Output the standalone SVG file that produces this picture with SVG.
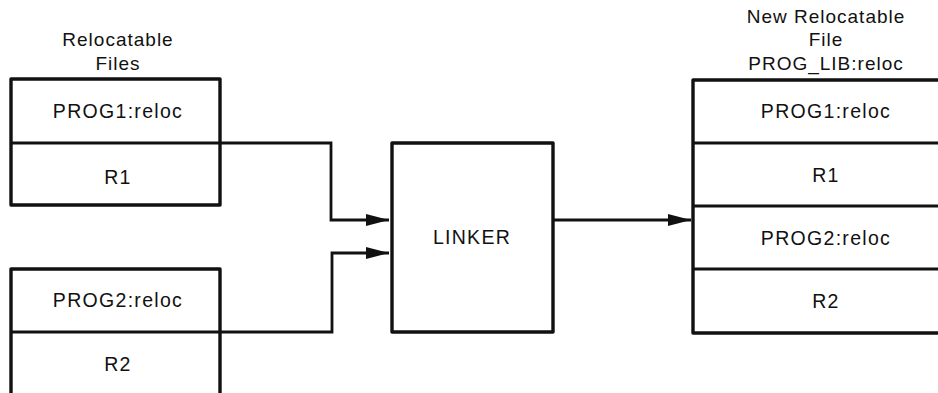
<svg xmlns="http://www.w3.org/2000/svg" width="938" height="393" viewBox="0 0 938 393">
<defs>
<style>
.box{fill:none;stroke:#111;stroke-width:3.4;stroke-linejoin:round}
.ln{fill:none;stroke:#111;stroke-width:2.8}
.t{font-family:"Liberation Sans",Arial,sans-serif;font-size:19.5px;fill:#111;text-anchor:middle;letter-spacing:1.3px}
.h{font-family:"Liberation Sans",Arial,sans-serif;font-size:19px;fill:#111;text-anchor:middle;letter-spacing:1px}
</style>
<marker id="ah" markerWidth="24" markerHeight="14" refX="23" refY="7" orient="auto" markerUnits="userSpaceOnUse">
<path d="M0,1 L23,7 L0,13 Z" fill="#111"/>
</marker>
</defs>
<rect width="938" height="393" fill="#fff"/>
<g id="label-left"><text class="h" x="118" y="46">Relocatable</text><text class="h" x="118" y="70">Files</text></g>
<g id="label-right"><text class="h" x="826" y="23">New Relocatable</text><text class="h" x="826" y="46">File</text><text class="h" x="826" y="70">PROG_LIB:reloc</text></g>
<g id="file1">
<rect class="box" x="11" y="79" width="209" height="126"/>
<line class="ln" x1="11" y1="143" x2="220" y2="143"/>
<text class="t" x="118" y="118">PROG1:reloc</text>
<text class="t" x="118" y="184">R1</text>
</g>
<g id="file2">
<path class="box" d="M11,395 V269 H220 V395"/>
<line class="ln" x1="11" y1="332" x2="220" y2="332"/>
<text class="t" x="118" y="307">PROG2:reloc</text>
<text class="t" x="118" y="371">R2</text>
</g>
<g id="linker">
<rect class="box" x="392" y="143" width="161" height="189"/>
<text class="t" x="472" y="244">LINKER</text>
</g>
<g id="newfile">
<path class="box" d="M940,80 H693 V333 H940"/>
<line class="ln" x1="693" y1="143" x2="940" y2="143"/>
<line class="ln" x1="693" y1="206" x2="940" y2="206"/>
<line class="ln" x1="693" y1="269" x2="940" y2="269"/>
<text class="t" x="826" y="118">PROG1:reloc</text>
<text class="t" x="826" y="182">R1</text>
<text class="t" x="826" y="245">PROG2:reloc</text>
<text class="t" x="826" y="308">R2</text>
</g>
<g id="connectors">
<path class="ln" d="M220,143 H331 V220 H389" marker-end="url(#ah)"/>
<path class="ln" d="M220,332 H332 V253 H389" marker-end="url(#ah)"/>
<path class="ln" d="M553,220 H691" marker-end="url(#ah)"/>
</g>
</svg>
